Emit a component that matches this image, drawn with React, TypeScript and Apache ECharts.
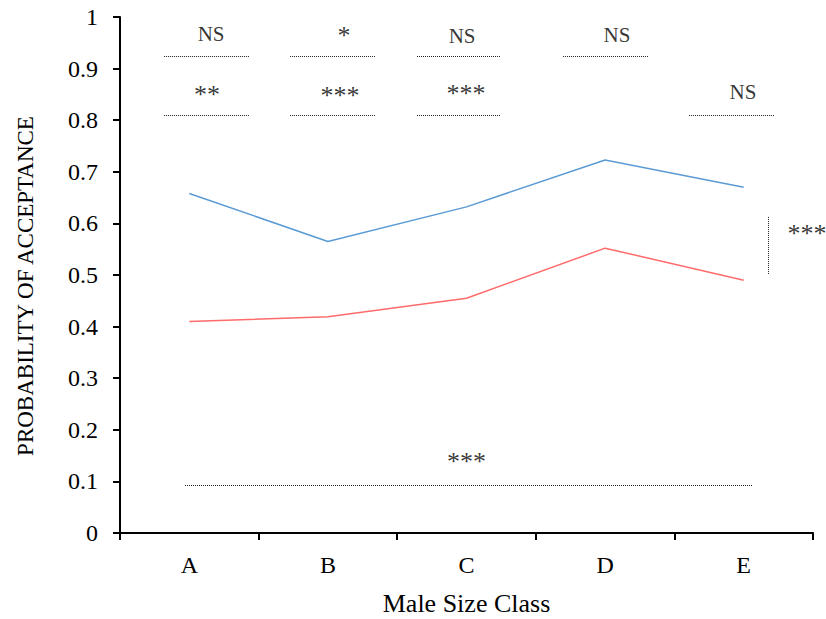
import React, { useEffect, useRef } from "react";
import * as echarts from "echarts";

const FONT = "Liberation Serif, Times New Roman, serif";

// Size classes and acceptance probabilities
const categories = ["A", "B", "C", "D", "E"];
const blueSeries = [0.658, 0.565, 0.632, 0.723, 0.67];
const redSeries = [0.41, 0.419, 0.455, 0.552, 0.49];

// Significance brackets (x in category units on a 0..5 scale)
const upperRowY = 0.924;
const lowerRowY = 0.81;
const upperSpans = [[0.317, 0.931], [1.227, 1.84], [2.143, 2.749], [3.196, 3.81]];
const lowerSpans = [[0.317, 0.931], [1.227, 1.84], [2.143, 2.749], [4.105, 4.719]];
const upperMarks = ["NS", "*", "NS", "NS"];
const upperMarkX = [0.657, 1.616, 2.468, 3.586];
const upperMarkY = [0.968, 0.964, 0.963, 0.965];
const lowerMarks = ["**", "***", "***", "NS"];
const lowerMarkX = [0.628, 1.587, 2.496, 4.495];
const lowerMarkY = [0.85, 0.848, 0.851, 0.855];

// Overall size effect
const overallSpan = [0.469, 4.565];
const overallY = 0.092;
const overallMark = { text: "***", x: 2.5, y: 0.138 };

// Difference between the two curves
const pairX = 4.68;
const pairSpan = [0.502, 0.614];
const pairMark = { text: "***", x: 4.957, y: 0.581 };

const yTitle = "PROBABILITY OF ACCEPTANCE";
const xTitle = "Male Size Class";

export default function App() {
  const ref = useRef<HTMLDivElement>(null);

  useEffect(() => {
    const chart = echarts.init(ref.current!, null, { renderer: "svg" });

    const segments = [
      ...upperSpans.map((s) => ({ coords: [[s[0], upperRowY], [s[1], upperRowY]] })),
      ...lowerSpans.map((s) => ({ coords: [[s[0], lowerRowY], [s[1], lowerRowY]] })),
      { coords: [[overallSpan[0], overallY], [overallSpan[1], overallY]] },
      { coords: [[pairX, pairSpan[0]], [pairX, pairSpan[1]]] },
    ];

    const marks = [
      ...upperMarks.map((t, i) => ({ text: t, x: upperMarkX[i], y: upperMarkY[i] })),
      ...lowerMarks.map((t, i) => ({ text: t, x: lowerMarkX[i], y: lowerMarkY[i] })),
      overallMark,
      pairMark,
    ];

    const axisLineStyle = { color: "#000", width: 2 };

    chart.setOption({
      animation: false,
      backgroundColor: "#fff",
      textStyle: { fontFamily: FONT },
      grid: { left: 120, right: 13, top: 17, bottom: 86, outerBoundsMode: "none", containLabel: false },
      graphic: [
        {
          type: "text",
          x: 25,
          y: 286,
          rotation: Math.PI / 2,
          silent: true,
          style: {
            text: yTitle,
            fill: "#000",
            font: `23px ${FONT}`,
            align: "center",
            verticalAlign: "middle",
          },
        },
      ],
      xAxis: [
        {
          type: "category",
          data: categories,
          boundaryGap: true,
          axisLine: { lineStyle: axisLineStyle },
          axisTick: { show: true, length: 7, lineStyle: axisLineStyle },
          axisLabel: { color: "#000", fontFamily: FONT, fontSize: 24, margin: 20 },
          splitLine: { show: false },
          name: xTitle,
          nameLocation: "middle",
          nameGap: 57,
          nameTextStyle: { color: "#000", fontFamily: FONT, fontSize: 26 },
        },
        { type: "value", min: 0, max: 5, show: false },
      ],
      yAxis: {
        type: "value",
        min: 0,
        max: 1,
        interval: 0.1,
        axisLine: { show: true, lineStyle: axisLineStyle },
        axisTick: { show: true, length: 7, lineStyle: axisLineStyle },
        axisLabel: { color: "#000", fontFamily: FONT, fontSize: 24, margin: 22 },
        splitLine: { show: false },
      },
      series: [
        {
          type: "line",
          data: blueSeries,
          symbol: "none",
          lineStyle: { color: "#5B9BD5", width: 1.5 },
          itemStyle: { color: "#5B9BD5" },
        },
        {
          type: "line",
          data: redSeries,
          symbol: "none",
          lineStyle: { color: "#FF6B6B", width: 1.5 },
          itemStyle: { color: "#FF6B6B" },
        },
        {
          type: "lines",
          coordinateSystem: "cartesian2d",
          xAxisIndex: 1,
          yAxisIndex: 0,
          silent: true,
          data: segments,
          lineStyle: { color: "#222", width: 1, type: [1, 1], opacity: 1, curveness: 0 },
        },
        {
          type: "scatter",
          xAxisIndex: 1,
          yAxisIndex: 0,
          silent: true,
          symbolSize: 0,
          data: marks.map((m) => ({
            name: m.text,
            value: [m.x, m.y],
            label: { fontSize: m.text === "NS" ? 21 : 26 },
          })),
          label: {
            show: true,
            position: "inside",
            formatter: "{b}",
            color: "#000",
            fontFamily: FONT,
          },
        },
      ],
    });

    return () => chart.dispose();
  }, []);

  return (
    <div
      ref={ref}
      style={{ position: "fixed", left: 0, top: 0, width: 826, height: 619, background: "#fff" }}
    />
  );
}
